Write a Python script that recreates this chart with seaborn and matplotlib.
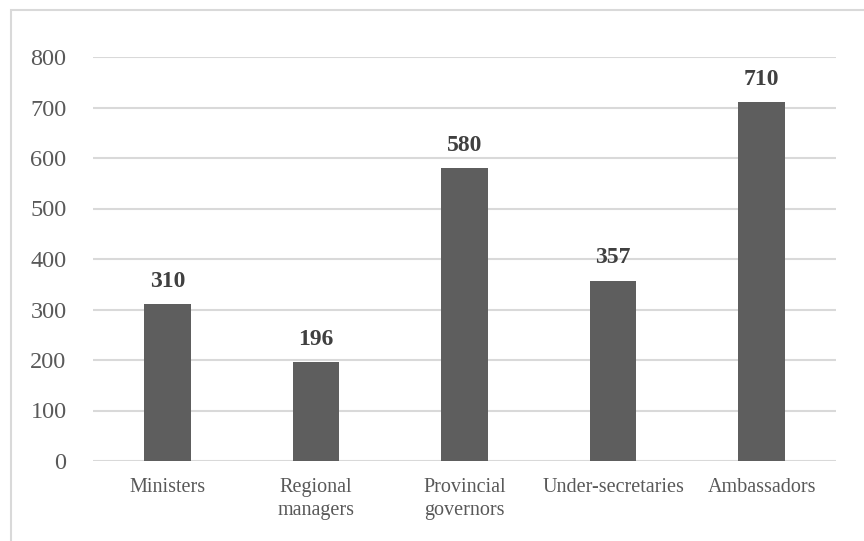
import matplotlib
matplotlib.use("Agg")
import matplotlib.pyplot as plt
import seaborn as sns
import pandas as pd
from matplotlib.patches import Rectangle

categories = ["Ministers", "Regional\nmanagers", "Provincial\ngovernors", "Under-secretaries", "Ambassadors"]
values = [310, 196, 580, 357, 710]
yticks = [0, 100, 200, 300, 400, 500, 600, 700, 800]

sns.set_theme(style="white")
plt.rcParams['font.family'] = ['Liberation Serif', 'DejaVu Serif']

df = pd.DataFrame({"cat": categories, "val": values})

fig = plt.figure(figsize=(8.64, 5.41), dpi=100)
ax = fig.add_axes([93/864, 1-461/541, (836-93)/864, (461-57)/541])

sns.barplot(data=df, x="cat", y="val", color="#5e5e5e", width=0.314, ax=ax,
            saturation=1, edgecolor="none", zorder=3)

ax.set_ylim(0, 800)
ax.set_xlim(-0.5, 4.5)
ax.set_yticks(yticks)
ax.set_yticklabels([str(t) for t in yticks])
for t in yticks:
    ax.axhline(t, color="#d9d9d9", lw=1.5, zorder=1)
for s in ax.spines.values():
    s.set_visible(False)
ax.set_xlabel("")
ax.set_ylabel("")
ax.tick_params(axis="y", length=0, pad=19, labelsize=17.5, labelcolor="#595959")
ax.tick_params(axis="x", length=0, pad=12, labelsize=14.5, labelcolor="#595959")
for lab in ax.get_xticklabels():
    lab.set_linespacing(1.3)

for i, v in enumerate(values):
    ax.annotate(str(v), (i, v), xytext=(0, 9), textcoords="offset points",
                ha="center", va="bottom", fontsize=17, fontweight="bold", color="#404040")

fig.patches.append(Rectangle((11/864, -0.1), 1.2, 1.1 - 10/541, transform=fig.transFigure,
                             fill=False, edgecolor="#d9d9d9", lw=1.5))

fig.savefig("out.png", dpi=100)
